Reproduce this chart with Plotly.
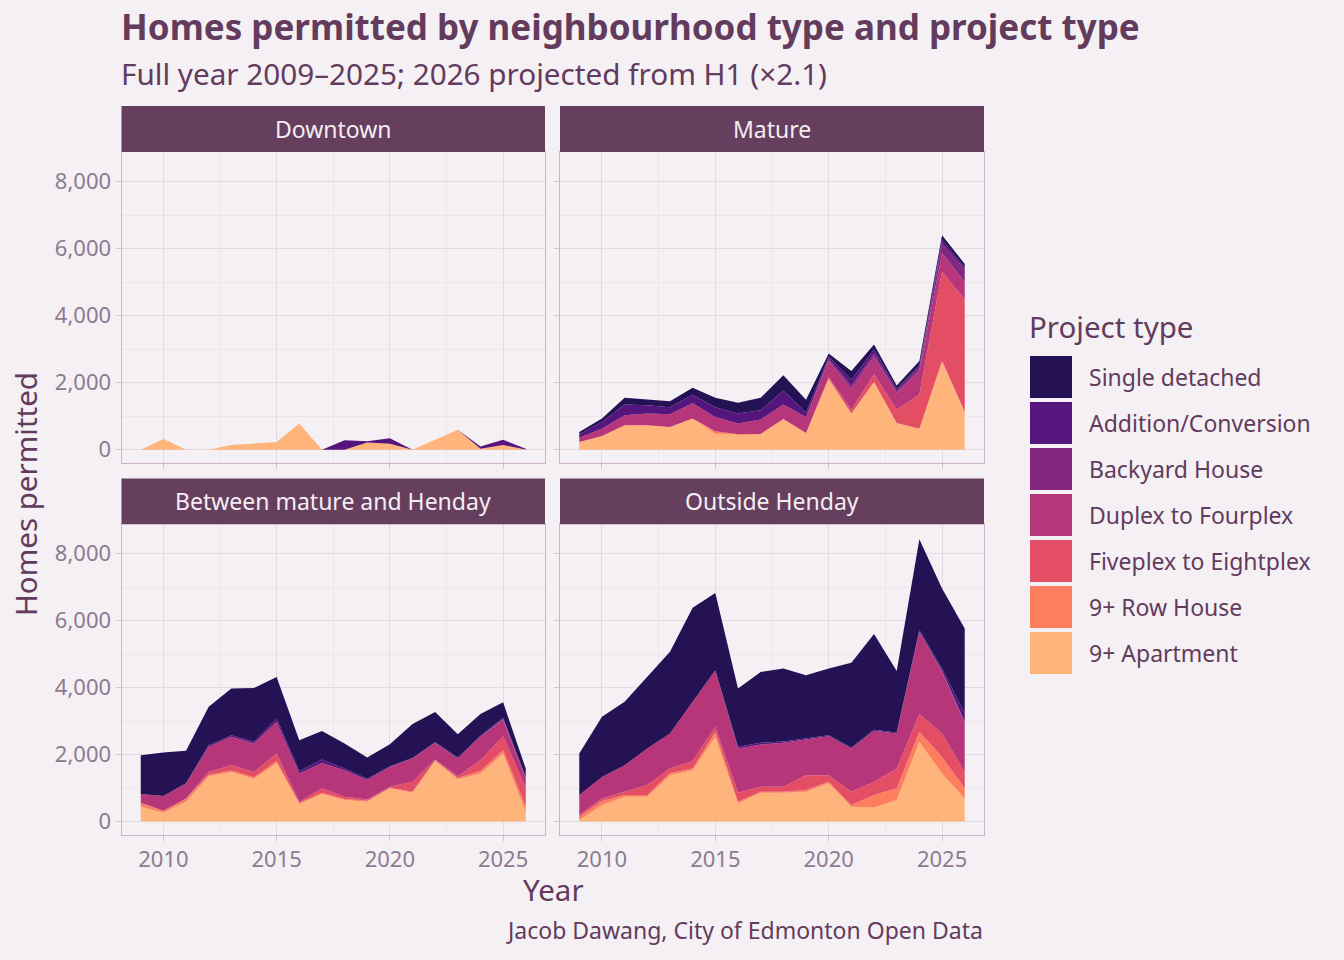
import plotly.graph_objects as go

years = list(range(2009, 2027))

project_types = ["9+ Apartment", "9+ Row House", "Fiveplex to Eightplex",
                 "Duplex to Fourplex", "Backyard House", "Addition/Conversion",
                 "Single detached"]
type_colors = ["#FEB47B", "#FC7E5E", "#E34E65", "#B63679", "#822681",
               "#56147D", "#251255"]

panels = ["Downtown", "Mature", "Between mature and Henday", "Outside Henday"]

downtown = {
    "9+ Apartment":          [0, 320, 0, 0, 140, 190, 230, 780, 0, 0, 220, 180, 0, 300, 600, 30, 140, 10],
    "9+ Row House":          [0] * 18,
    "Fiveplex to Eightplex": [0] * 18,
    "Duplex to Fourplex":    [0] * 18,
    "Backyard House":        [0] * 18,
    "Addition/Conversion":   [0, 0, 0, 0, 0, 0, 0, 0, 0, 280, 30, 160, 0, 0, 0, 70, 160, 20],
    "Single detached":       [0] * 18,
}

mature = {
    "9+ Apartment":          [230, 400, 730, 730, 680, 930, 480, 460, 460, 920, 500, 2120, 1080, 2020, 800, 630, 2650, 1130],
    "9+ Row House":          [0, 10, 0, 0, 0, 0, 70, 0, 10, 0, 0, 0, 0, 0, 0, 0, 0, 0],
    "Fiveplex to Eightplex": [0, 0, 0, 0, 0, 0, 0, 0, 0, 0, 0, 50, 120, 230, 400, 1020, 2660, 3350],
    "Duplex to Fourplex":    [130, 220, 300, 350, 380, 460, 430, 320, 430, 430, 480, 480, 620, 520, 490, 720, 550, 530],
    "Backyard House":        [0, 0, 0, 0, 0, 0, 0, 0, 0, 0, 0, 60, 100, 100, 60, 80, 280, 370],
    "Addition/Conversion":   [100, 200, 320, 250, 210, 250, 290, 300, 280, 420, 120, 60, 170, 120, 70, 70, 120, 60],
    "Single detached":       [70, 100, 200, 180, 180, 210, 280, 320, 370, 450, 390, 100, 260, 150, 100, 130, 140, 100],
}

between = {
    "9+ Apartment":          [440, 260, 590, 1350, 1480, 1280, 1750, 520, 820, 640, 590, 990, 860, 1810, 1260, 1430, 2030, 290],
    "9+ Row House":          [100, 60, 100, 40, 40, 40, 60, 30, 40, 30, 30, 20, 30, 20, 40, 80, 100, 170],
    "Fiveplex to Eightplex": [30, 0, 0, 90, 160, 160, 220, 40, 130, 70, 40, 30, 300, 20, 50, 320, 420, 530],
    "Duplex to Fourplex":    [250, 440, 450, 750, 850, 850, 950, 840, 760, 790, 580, 590, 690, 500, 530, 700, 480, 290],
    "Backyard House":        [0, 0, 0, 0, 0, 0, 0, 0, 0, 0, 0, 0, 0, 0, 0, 0, 30, 20],
    "Addition/Conversion":   [0, 0, 0, 50, 50, 50, 100, 80, 100, 50, 40, 20, 20, 20, 30, 30, 40, 30],
    "Single detached":       [1160, 1300, 970, 1150, 1390, 1610, 1240, 920, 850, 750, 630, 660, 1010, 900, 700, 650, 460, 250],
}

outside = {
    "9+ Apartment":          [40, 490, 740, 740, 1380, 1530, 2530, 540, 860, 860, 890, 1140, 440, 420, 640, 2380, 1430, 690],
    "9+ Row House":          [100, 120, 50, 50, 70, 50, 150, 50, 30, 30, 50, 50, 50, 370, 350, 300, 500, 300],
    "Fiveplex to Eightplex": [50, 80, 100, 300, 130, 230, 150, 270, 150, 150, 440, 190, 400, 400, 590, 530, 700, 490],
    "Duplex to Fourplex":    [600, 640, 790, 1090, 1050, 1770, 1690, 1320, 1260, 1310, 1070, 1170, 1290, 1520, 1050, 2460, 1840, 1450],
    "Backyard House":        [0, 0, 0, 0, 0, 0, 0, 0, 0, 0, 0, 0, 0, 0, 0, 0, 30, 50],
    "Addition/Conversion":   [0, 0, 0, 0, 0, 0, 0, 50, 50, 40, 30, 30, 30, 30, 30, 50, 70, 250],
    "Single detached":       [1240, 1800, 1900, 2140, 2440, 2810, 2310, 1740, 2120, 2180, 1890, 1990, 2530, 2860, 1840, 2710, 2390, 2540],
}

panel_data = [downtown, mature, between, outside]

x_ticks = [2010, 2015, 2020, 2025]
y_ticks = [0, 2000, 4000, 6000, 8000]
y_tick_text = ["0", "2,000", "4,000", "6,000", "8,000"]

title_text = "Homes permitted by neighbourhood type and project type"
subtitle_text = "Full year 2009\u20132025; 2026 projected from H1 (\u00d72.1)"
caption_text = "Jacob Dawang, City of Edmonton Open Data"

# ---------------- styling ----------------
W, H = 1344, 960
BG = "#F4F0F4"
TITLE_C = "#633B5C"
TICK_C = "#8E7A8F"
GRID = "#E3D9E1"
GRID_MINOR = "#ECE5EB"
BORDER = "#CDB3CB"
STRIP = "#663E5E"
FONT = "Noto Sans"

def px(x):
    return x / W

def py(y):
    return 1 - y / H

col_px = [(121.5, 545), (560, 984)]
row_px = [(152, 463), (524.3, 834.7)]
strip_px = [(106, 152), (478.5, 524.3)]

fig = go.Figure()

for i, (name, data) in enumerate(zip(panels, panel_data)):
    r, c = divmod(i, 2)
    ax = "" if i == 0 else str(i + 1)
    for t, col in zip(project_types, type_colors):
        fig.add_trace(go.Scatter(
            x=years, y=data[t], mode="lines", stackgroup="sg%d" % i,
            line=dict(width=0, color=col), fillcolor=col,
            name=t, showlegend=False, xaxis="x" + ax, yaxis="y" + ax,
            hovertemplate=t + ": %{y}<extra>" + name + "</extra>",
        ))
    xd = [px(col_px[c][0]), px(col_px[c][1])]
    yd = [py(row_px[r][1]), py(row_px[r][0])]
    common = dict(showline=True, mirror=True, linecolor=BORDER, linewidth=1,
                  showgrid=True, gridcolor=GRID, gridwidth=1, zeroline=False,
                  ticks="outside", ticklen=5, tickcolor="#D5C3D2",
                  tickfont=dict(family=FONT, size=22, color=TICK_C))
    fig.layout["xaxis" + ax] = dict(
        domain=xd, range=[2008.15, 2026.85], tickvals=x_ticks,
        showticklabels=(r == 1), anchor="y" + ax,
        minor=dict(tickvals=[2007.5, 2012.5, 2017.5, 2022.5], showgrid=True,
                   gridcolor=GRID_MINOR, ticks=""),
        **common)
    fig.layout["yaxis" + ax] = dict(
        domain=yd, range=[-395, 8880], tickvals=y_ticks, ticktext=y_tick_text,
        showticklabels=(c == 0), anchor="x" + ax,
        minor=dict(tickvals=[1000, 3000, 5000, 7000], showgrid=True,
                   gridcolor=GRID_MINOR, ticks=""),
        **common)
    # strip
    fig.add_shape(type="rect", xref="paper", yref="paper",
                  x0=px(col_px[c][0]), x1=px(col_px[c][1]),
                  y0=py(strip_px[r][1]), y1=py(strip_px[r][0]),
                  fillcolor=STRIP, line=dict(width=0), layer="above")
    fig.add_annotation(text=name, xref="paper", yref="paper",
                       x=px((col_px[c][0] + col_px[c][1]) / 2),
                       y=py((strip_px[r][0] + strip_px[r][1]) / 2),
                       showarrow=False, xanchor="center", yanchor="middle",
                       font=dict(family=FONT, size=23, color="#F4EEF3"))

# custom legend
fig.add_annotation(text="Project type", xref="paper", yref="paper",
                   x=px(1027), y=py(326), showarrow=False,
                   xanchor="left", yanchor="middle",
                   font=dict(family=FONT, size=29.5, color=TITLE_C))
legend_order = list(reversed(project_types))
legend_cols = list(reversed(type_colors))
for k, (t, col) in enumerate(zip(legend_order, legend_cols)):
    top = 356 + 46 * k
    fig.add_shape(type="rect", xref="paper", yref="paper",
                  x0=px(1030), x1=px(1072), y0=py(top + 42), y1=py(top),
                  fillcolor=col, line=dict(width=0))
    fig.add_annotation(text=t, xref="paper", yref="paper",
                       x=px(1087), y=py(top + 21), showarrow=False,
                       xanchor="left", yanchor="middle",
                       font=dict(family=FONT, size=23, color=TITLE_C))

# titles & labels
fig.add_annotation(text="<b>" + title_text + "</b>", xref="paper", yref="paper",
                   x=px(119), y=py(27), showarrow=False, xanchor="left",
                   yanchor="middle", font=dict(family=FONT, size=35, color=TITLE_C))
fig.add_annotation(text=subtitle_text, xref="paper", yref="paper",
                   x=px(119), y=py(73), showarrow=False, xanchor="left",
                   yanchor="middle", font=dict(family=FONT, size=29.7, color=TITLE_C))
fig.add_annotation(text="Year", xref="paper", yref="paper",
                   x=px(553), y=py(889), showarrow=False, xanchor="center",
                   yanchor="middle", font=dict(family=FONT, size=29.5, color=TITLE_C))
fig.add_annotation(text="Homes permitted", xref="paper", yref="paper",
                   x=px(26), y=py(494), showarrow=False, textangle=-90,
                   xanchor="center", yanchor="middle",
                   font=dict(family=FONT, size=29.5, color=TITLE_C))
fig.add_annotation(text=caption_text, xref="paper", yref="paper",
                   x=px(985), y=py(930), showarrow=False, xanchor="right",
                   yanchor="middle", font=dict(family=FONT, size=23, color=TITLE_C))

fig.update_layout(width=W, height=H, margin=dict(l=0, r=0, t=0, b=0),
                  paper_bgcolor=BG, plot_bgcolor=BG, showlegend=False,
                  font=dict(family=FONT, color=TITLE_C))

fig.write_html("out.html", config={"displayModeBar": False},
               post_script="document.body.style.margin='0';"
                           "document.body.style.background='" + BG + "';")
